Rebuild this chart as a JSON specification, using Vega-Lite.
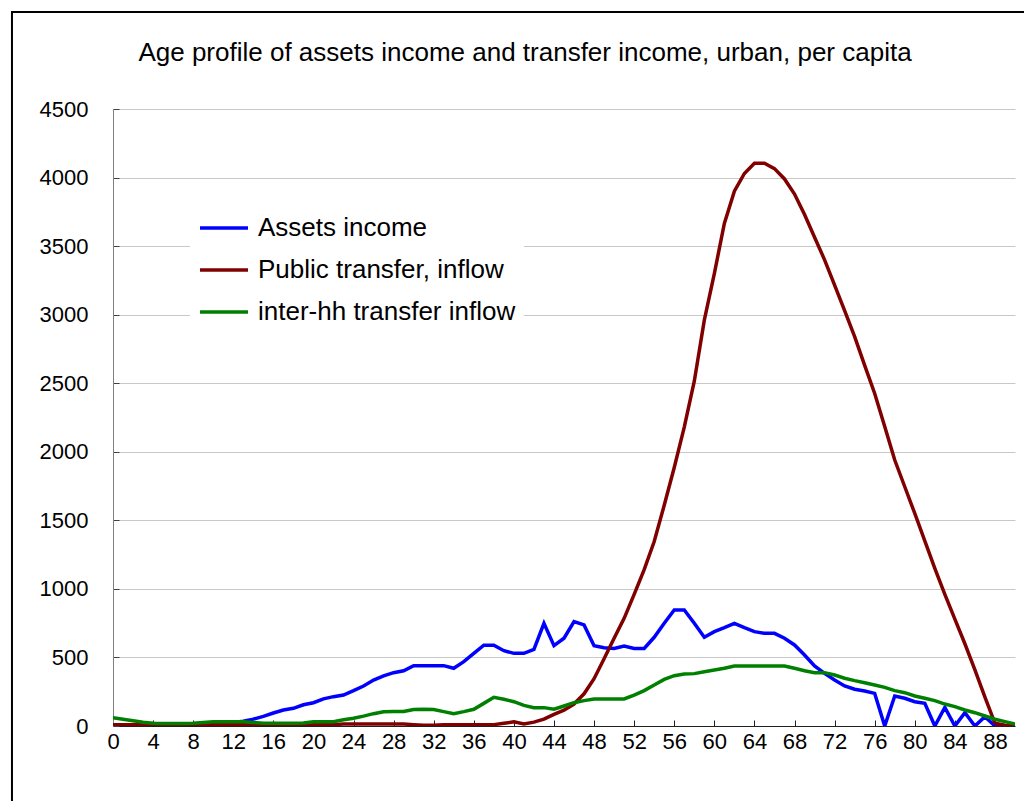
{
  "$schema": "https://vega.github.io/schema/vega-lite/v6.json",
  "width": 902,
  "height": 617,
  "autosize": {"type": "none"},
  "padding": {"left": 113, "top": 109, "right": 9, "bottom": 75},
  "background": "white",
  "title": {
    "text": "Age profile of assets income and transfer income, urban, per capita",
    "anchor": "middle",
    "frame": "group",
    "dx": -39,
    "offset": -55,
    "font": "Liberation Sans",
    "fontSize": 26,
    "fontWeight": "normal",
    "color": "black"
  },
  "data": {
    "values": [
      {"age": 0, "Assets income": 10, "Public transfer, inflow": 10, "inter-hh transfer inflow": 60},
      {"age": 1, "Assets income": 10, "Public transfer, inflow": 10, "inter-hh transfer inflow": 50},
      {"age": 2, "Assets income": 10, "Public transfer, inflow": 10, "inter-hh transfer inflow": 39},
      {"age": 3, "Assets income": 10, "Public transfer, inflow": 10, "inter-hh transfer inflow": 28},
      {"age": 4, "Assets income": 10, "Public transfer, inflow": 5, "inter-hh transfer inflow": 20},
      {"age": 5, "Assets income": 10, "Public transfer, inflow": 5, "inter-hh transfer inflow": 18},
      {"age": 6, "Assets income": 10, "Public transfer, inflow": 5, "inter-hh transfer inflow": 18},
      {"age": 7, "Assets income": 10, "Public transfer, inflow": 5, "inter-hh transfer inflow": 18},
      {"age": 8, "Assets income": 10, "Public transfer, inflow": 5, "inter-hh transfer inflow": 20},
      {"age": 9, "Assets income": 10, "Public transfer, inflow": 5, "inter-hh transfer inflow": 25},
      {"age": 10, "Assets income": 15, "Public transfer, inflow": 10, "inter-hh transfer inflow": 31},
      {"age": 11, "Assets income": 20, "Public transfer, inflow": 10, "inter-hh transfer inflow": 31},
      {"age": 12, "Assets income": 25, "Public transfer, inflow": 10, "inter-hh transfer inflow": 31},
      {"age": 13, "Assets income": 35, "Public transfer, inflow": 10, "inter-hh transfer inflow": 31},
      {"age": 14, "Assets income": 50, "Public transfer, inflow": 10, "inter-hh transfer inflow": 25},
      {"age": 15, "Assets income": 70, "Public transfer, inflow": 5, "inter-hh transfer inflow": 20},
      {"age": 16, "Assets income": 95, "Public transfer, inflow": 5, "inter-hh transfer inflow": 20},
      {"age": 17, "Assets income": 117, "Public transfer, inflow": 5, "inter-hh transfer inflow": 20},
      {"age": 18, "Assets income": 129, "Public transfer, inflow": 5, "inter-hh transfer inflow": 20},
      {"age": 19, "Assets income": 155, "Public transfer, inflow": 5, "inter-hh transfer inflow": 22},
      {"age": 20, "Assets income": 170, "Public transfer, inflow": 10, "inter-hh transfer inflow": 31},
      {"age": 21, "Assets income": 198, "Public transfer, inflow": 10, "inter-hh transfer inflow": 31},
      {"age": 22, "Assets income": 214, "Public transfer, inflow": 10, "inter-hh transfer inflow": 31},
      {"age": 23, "Assets income": 226, "Public transfer, inflow": 15, "inter-hh transfer inflow": 45},
      {"age": 24, "Assets income": 258, "Public transfer, inflow": 15, "inter-hh transfer inflow": 56},
      {"age": 25, "Assets income": 292, "Public transfer, inflow": 15, "inter-hh transfer inflow": 72},
      {"age": 26, "Assets income": 335, "Public transfer, inflow": 15, "inter-hh transfer inflow": 90},
      {"age": 27, "Assets income": 365, "Public transfer, inflow": 15, "inter-hh transfer inflow": 104},
      {"age": 28, "Assets income": 389, "Public transfer, inflow": 15, "inter-hh transfer inflow": 106},
      {"age": 29, "Assets income": 403, "Public transfer, inflow": 15, "inter-hh transfer inflow": 106},
      {"age": 30, "Assets income": 440, "Public transfer, inflow": 10, "inter-hh transfer inflow": 120},
      {"age": 31, "Assets income": 440, "Public transfer, inflow": 5, "inter-hh transfer inflow": 122},
      {"age": 32, "Assets income": 440, "Public transfer, inflow": 5, "inter-hh transfer inflow": 120},
      {"age": 33, "Assets income": 440, "Public transfer, inflow": 10, "inter-hh transfer inflow": 105},
      {"age": 34, "Assets income": 421, "Public transfer, inflow": 10, "inter-hh transfer inflow": 90},
      {"age": 35, "Assets income": 469, "Public transfer, inflow": 10, "inter-hh transfer inflow": 105},
      {"age": 36, "Assets income": 530, "Public transfer, inflow": 10, "inter-hh transfer inflow": 122},
      {"age": 37, "Assets income": 589, "Public transfer, inflow": 10, "inter-hh transfer inflow": 165},
      {"age": 38, "Assets income": 589, "Public transfer, inflow": 10, "inter-hh transfer inflow": 209},
      {"age": 39, "Assets income": 549, "Public transfer, inflow": 20, "inter-hh transfer inflow": 195},
      {"age": 40, "Assets income": 530, "Public transfer, inflow": 30, "inter-hh transfer inflow": 177},
      {"age": 41, "Assets income": 530, "Public transfer, inflow": 15, "inter-hh transfer inflow": 150},
      {"age": 42, "Assets income": 559, "Public transfer, inflow": 28, "inter-hh transfer inflow": 134},
      {"age": 43, "Assets income": 749, "Public transfer, inflow": 50, "inter-hh transfer inflow": 134},
      {"age": 44, "Assets income": 586, "Public transfer, inflow": 85, "inter-hh transfer inflow": 122},
      {"age": 45, "Assets income": 640, "Public transfer, inflow": 115, "inter-hh transfer inflow": 146},
      {"age": 46, "Assets income": 761, "Public transfer, inflow": 160, "inter-hh transfer inflow": 170},
      {"age": 47, "Assets income": 737, "Public transfer, inflow": 235, "inter-hh transfer inflow": 185},
      {"age": 48, "Assets income": 586, "Public transfer, inflow": 345, "inter-hh transfer inflow": 197},
      {"age": 49, "Assets income": 571, "Public transfer, inflow": 490, "inter-hh transfer inflow": 197},
      {"age": 50, "Assets income": 566, "Public transfer, inflow": 640, "inter-hh transfer inflow": 197},
      {"age": 51, "Assets income": 583, "Public transfer, inflow": 785, "inter-hh transfer inflow": 197},
      {"age": 52, "Assets income": 566, "Public transfer, inflow": 960, "inter-hh transfer inflow": 226},
      {"age": 53, "Assets income": 566, "Public transfer, inflow": 1140, "inter-hh transfer inflow": 258},
      {"age": 54, "Assets income": 647, "Public transfer, inflow": 1345, "inter-hh transfer inflow": 299},
      {"age": 55, "Assets income": 749, "Public transfer, inflow": 1610, "inter-hh transfer inflow": 340},
      {"age": 56, "Assets income": 846, "Public transfer, inflow": 1885, "inter-hh transfer inflow": 367},
      {"age": 57, "Assets income": 846, "Public transfer, inflow": 2180, "inter-hh transfer inflow": 379},
      {"age": 58, "Assets income": 749, "Public transfer, inflow": 2515, "inter-hh transfer inflow": 382},
      {"age": 59, "Assets income": 647, "Public transfer, inflow": 2960, "inter-hh transfer inflow": 396},
      {"age": 60, "Assets income": 688, "Public transfer, inflow": 3300, "inter-hh transfer inflow": 408},
      {"age": 61, "Assets income": 717, "Public transfer, inflow": 3665, "inter-hh transfer inflow": 421},
      {"age": 62, "Assets income": 749, "Public transfer, inflow": 3900, "inter-hh transfer inflow": 438},
      {"age": 63, "Assets income": 717, "Public transfer, inflow": 4030, "inter-hh transfer inflow": 438},
      {"age": 64, "Assets income": 688, "Public transfer, inflow": 4105, "inter-hh transfer inflow": 438},
      {"age": 65, "Assets income": 676, "Public transfer, inflow": 4105, "inter-hh transfer inflow": 438},
      {"age": 66, "Assets income": 676, "Public transfer, inflow": 4065, "inter-hh transfer inflow": 438},
      {"age": 67, "Assets income": 640, "Public transfer, inflow": 3990, "inter-hh transfer inflow": 438},
      {"age": 68, "Assets income": 591, "Public transfer, inflow": 3880, "inter-hh transfer inflow": 421},
      {"age": 69, "Assets income": 518, "Public transfer, inflow": 3730, "inter-hh transfer inflow": 403},
      {"age": 70, "Assets income": 438, "Public transfer, inflow": 3565, "inter-hh transfer inflow": 389},
      {"age": 71, "Assets income": 384, "Public transfer, inflow": 3400, "inter-hh transfer inflow": 389},
      {"age": 72, "Assets income": 335, "Public transfer, inflow": 3215, "inter-hh transfer inflow": 372},
      {"age": 73, "Assets income": 292, "Public transfer, inflow": 3030, "inter-hh transfer inflow": 348},
      {"age": 74, "Assets income": 268, "Public transfer, inflow": 2840, "inter-hh transfer inflow": 331},
      {"age": 75, "Assets income": 255, "Public transfer, inflow": 2630, "inter-hh transfer inflow": 316},
      {"age": 76, "Assets income": 238, "Public transfer, inflow": 2425, "inter-hh transfer inflow": 299},
      {"age": 77, "Assets income": 0, "Public transfer, inflow": 2185, "inter-hh transfer inflow": 282},
      {"age": 78, "Assets income": 219, "Public transfer, inflow": 1940, "inter-hh transfer inflow": 258},
      {"age": 79, "Assets income": 202, "Public transfer, inflow": 1745, "inter-hh transfer inflow": 243},
      {"age": 80, "Assets income": 177, "Public transfer, inflow": 1550, "inter-hh transfer inflow": 219},
      {"age": 81, "Assets income": 165, "Public transfer, inflow": 1350, "inter-hh transfer inflow": 202},
      {"age": 82, "Assets income": 0, "Public transfer, inflow": 1150, "inter-hh transfer inflow": 185},
      {"age": 83, "Assets income": 136, "Public transfer, inflow": 960, "inter-hh transfer inflow": 160},
      {"age": 84, "Assets income": 0, "Public transfer, inflow": 780, "inter-hh transfer inflow": 141},
      {"age": 85, "Assets income": 97, "Public transfer, inflow": 600, "inter-hh transfer inflow": 117},
      {"age": 86, "Assets income": 0, "Public transfer, inflow": 410, "inter-hh transfer inflow": 97},
      {"age": 87, "Assets income": 68, "Public transfer, inflow": 210, "inter-hh transfer inflow": 73},
      {"age": 88, "Assets income": 0, "Public transfer, inflow": 20, "inter-hh transfer inflow": 49},
      {"age": 89, "Assets income": 0, "Public transfer, inflow": 5, "inter-hh transfer inflow": 32},
      {"age": 90, "Assets income": 0, "Public transfer, inflow": 0, "inter-hh transfer inflow": 15}
    ]
  },
  "layer": [
    {
      "data": {"values": [{"frame": "chart"}]},
      "mark": {"type": "rect", "fill": "transparent", "stroke": "black", "strokeWidth": 2, "clip": false},
      "encoding": {
        "x": {"datum": -10.08, "type": "quantitative", "scale": {"domain": [0, 90], "nice": false, "zero": false}},
        "x2": {"datum": 93},
        "y": {"datum": 5207, "type": "quantitative", "scale": {"domain": [0, 4500], "nice": false}},
        "y2": {"datum": -700}
      }
    },
    {
      "transform": [
        {"fold": ["Assets income", "Public transfer, inflow", "inter-hh transfer inflow"], "as": ["series", "value"]}
      ],
      "mark": {"type": "line", "strokeWidth": 3.5, "strokeJoin": "miter", "clip": true},
      "encoding": {
        "x": {
          "field": "age",
          "type": "quantitative",
          "scale": {"domain": [0, 90], "nice": false, "zero": false},
          "axis": {
            "title": null,
            "values": [0,1,2,3,4,5,6,7,8,9,10,11,12,13,14,15,16,17,18,19,20,21,22,23,24,25,26,27,28,29,30,31,32,33,34,35,36,37,38,39,40,41,42,43,44,45,46,47,48,49,50,51,52,53,54,55,56,57,58,59,60,61,62,63,64,65,66,67,68,69,70,71,72,73,74,75,76,77,78,79,80,81,82,83,84,85,86,87,88,89,90],
            "format": "d",
            "labelExpr": "datum.value % 4 === 0 ? datum.label : ''",
            "labelOverlap": false,
            "labelFlush": false,
            "grid": false,
            "tickSize": -6,
            "tickWidth": 1,
            "tickColor": "#202020",
            "domainColor": "#202020",
            "labelPadding": 11
          }
        },
        "y": {
          "field": "value",
          "type": "quantitative",
          "scale": {"domain": [0, 4500], "nice": false},
          "axis": {
            "title": null,
            "values": [0, 500, 1000, 1500, 2000, 2500, 3000, 3500, 4000, 4500],
            "format": "d",
            "grid": true,
            "gridColor": "#c8c8c8",
            "gridWidth": 1,
            "tickSize": -6,
            "tickColor": "#404040",
            "domainColor": "#808080",
            "labelPadding": 31,
            "labelFlush": false,
            "labelOverlap": false
          }
        },
        "color": {
          "field": "series",
          "type": "nominal",
          "scale": {
            "domain": ["Assets income", "Public transfer, inflow", "inter-hh transfer inflow"],
            "range": ["#0000ff", "#800000", "#008000"]
          },
          "legend": {
            "title": null,
            "orient": "none",
            "legendX": 77,
            "legendY": 85,
            "padding": 8,
            "fillColor": "white",
            "symbolType": "stroke",
            "symbolSize": 2304,
            "symbolStrokeWidth": 3.5,
            "labelOffset": 8,
            "rowPadding": 3,
            "labelFontSize": 26,
            "labelLimit": 400
          }
        }
      }
    }
  ],
  "config": {
    "font": "Liberation Sans",
    "axis": {
      "labelFont": "Liberation Sans",
      "labelFontSize": 22,
      "labelColor": "black"
    },
    "legend": {
      "labelFont": "Liberation Sans",
      "labelColor": "black"
    },
    "view": {"stroke": null}
  }
}
